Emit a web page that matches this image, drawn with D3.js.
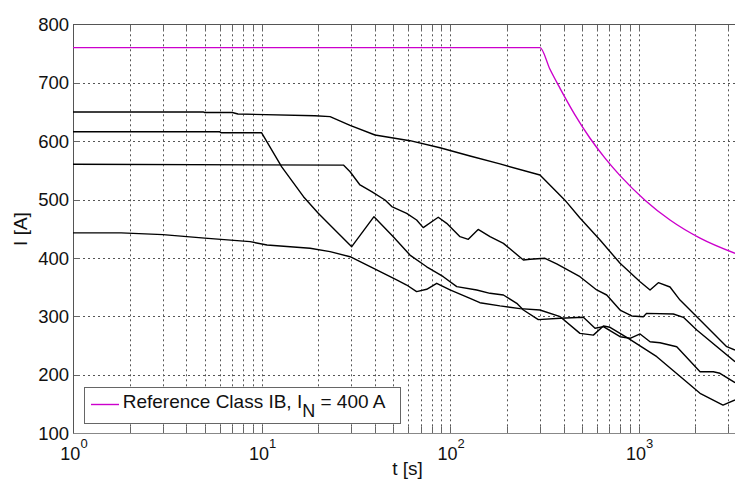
<!DOCTYPE html>
<html><head><meta charset="utf-8">
<script src="https://cdn.jsdelivr.net/npm/d3@7"></script>
<style>body{margin:0;background:#fff}svg{display:block;font-family:Arial,"Liberation Sans",sans-serif}</style>
</head><body><svg id="c" width="735" height="481"></svg>
<script>
// ---- data ----
const xTickValues = [1, 10, 100, 1000];
const xTickExponents = ["0", "1", "2", "3"];
const yTickValues = [100, 200, 300, 400, 500, 600, 700, 800];
const legendLabel = ["Reference Class IB, I", "N", " = 400 A"];

const refT = [1, 300, 339, 384, 460, 553, 664, 798, 1082, 1469, 2120, 3250];
const refI = [760, 760, 723, 690, 645, 605, 571, 541, 499, 465, 434, 408];

const aT = [1, 4.9, 5.0, 7.0, 7.5, 19.2, 23.1, 29.5, 40.0, 61.3, 88.5, 127.7, 184, 300, 407, 489, 625, 798, 1019, 1151, 1274, 1469, 1660, 2120, 2937, 3250];
const aI = [650, 650, 649, 649, 646.5, 643.6, 642, 627, 610.5, 600.8, 588.8, 574.6, 561, 542, 499, 468.5, 430.8, 391, 359.5, 345.3, 357.8, 350.4, 328, 294, 248.2, 242.6];

const bT = [1, 6.0, 6.1, 10.0, 12.8, 16.7, 20.0, 24.0, 30.1, 39.5, 50.0, 61.3, 75.2, 92.1, 108.6, 138.6, 163, 192, 226, 245, 294, 384, 510, 588, 651, 798, 902, 1019, 1151, 1300, 1595, 2120, 2494, 2703, 3250];
const bI = [616, 616, 614.5, 614.5, 556, 505, 476.5, 451, 419.4, 470.7, 436.5, 405, 385, 368, 351, 345.3, 339.6, 336.7, 322.5, 311, 294.6, 297, 298.5, 279.7, 282.5, 265.3, 262.6, 270, 256.8, 255, 248.2, 205.4, 205.4, 202.7, 186.6];

const cT = [1, 27.2, 29.5, 33.3, 38.4, 45.2, 49.1, 58.9, 66.5, 72.1, 86.6, 96.0, 113, 125, 141, 163, 192, 245, 266, 319, 368, 489, 600, 678, 798, 920, 1060, 1105, 1530, 1730, 2037, 3250];
const cI = [560.4, 559, 547.7, 525, 513.5, 499.3, 488, 476.5, 465, 452, 469.7, 459.4, 436.5, 432, 449, 436.5, 425, 396.6, 397.8, 399.5, 389.8, 368, 345.3, 336.7, 311, 300.8, 299.6, 305.3, 304.2, 298.5, 276.7, 222.6];

const dT = [1, 1.8, 3, 5, 8.7, 10.7, 18.1, 23.1, 29.5, 40.8, 52.1, 58.9, 66.5, 75.2, 85.0, 100, 127.7, 144, 184, 235, 300, 384, 489, 576, 651, 706, 883, 1250, 2120, 2806, 3250];
const dI = [443, 443, 440, 434, 428, 422.3, 416.6, 411, 402.2, 379.5, 362.4, 353.8, 342.4, 346.5, 356.7, 345.3, 331, 323.5, 318, 313.3, 311, 299.6, 271, 268, 283.6, 281.4, 262.6, 231.1, 168.5, 148.4, 157];

// ---- layout ----
const svg = d3.select("#c");
const x = d3.scaleLog().domain([1, 3600]).range([73, 743.4]);
const y = d3.scaleLinear().domain([100, 800]).range([433.3, 24.3]);
const L = 73, R = 743.4, T = 24.3, B = 433.3;

svg.append("rect").attr("width", 735).attr("height", 481).attr("fill", "#fff");
svg.append("defs").append("clipPath").attr("id", "clip")
  .append("rect").attr("x", L).attr("y", T).attr("width", R - L).attr("height", B - T);

const xGrid = [];
for (let k = 0; k <= 3; k++) for (let m = 1; m <= 9; m++) { const v = m * Math.pow(10, k); if (v > 1 && v < 3600) xGrid.push(v); }

const g = svg.append("g");
g.selectAll(".vg").data(xGrid).join("line")
  .attr("x1", d => Math.round(x(d)) + 0.5).attr("x2", d => Math.round(x(d)) + 0.5)
  .attr("y1", T).attr("y2", B)
  .attr("stroke", "#555").attr("stroke-width", 1).attr("stroke-dasharray", "2,3");
g.selectAll(".hg").data(yTickValues.filter(v => v > 100 && v < 800)).join("line")
  .attr("y1", d => Math.round(y(d)) + 0.5).attr("y2", d => Math.round(y(d)) + 0.5)
  .attr("x1", L).attr("x2", R)
  .attr("stroke", "#555").attr("stroke-width", 1).attr("stroke-dasharray", "2,3");

g.selectAll(".xt").data(xGrid).join("line")
  .attr("x1", d => Math.round(x(d)) + 0.5).attr("x2", d => Math.round(x(d)) + 0.5)
  .attr("y1", B).attr("y2", B - 7).attr("stroke", "#666").attr("stroke-width", 1);
g.selectAll(".xtt").data(xGrid).join("line")
  .attr("x1", d => Math.round(x(d)) + 0.5).attr("x2", d => Math.round(x(d)) + 0.5)
  .attr("y1", T).attr("y2", T + 7).attr("stroke", "#666").attr("stroke-width", 1);
g.selectAll(".yt").data(yTickValues).join("line")
  .attr("y1", d => Math.round(y(d)) + 0.5).attr("y2", d => Math.round(y(d)) + 0.5)
  .attr("x1", L).attr("x2", L + 7).attr("stroke", "#666").attr("stroke-width", 1);

g.append("line").attr("x1", L).attr("x2", R).attr("y1", Math.round(T) + 0.5).attr("y2", Math.round(T) + 0.5).attr("stroke", "#555");
g.append("line").attr("x1", L).attr("x2", R).attr("y1", Math.round(B) + 0.5).attr("y2", Math.round(B) + 0.5).attr("stroke", "#888");
g.append("line").attr("x1", Math.round(L) + 0.5).attr("x2", Math.round(L) + 0.5).attr("y1", T).attr("y2", B).attr("stroke", "#555");

const line = d3.line().x(d => x(d[0])).y(d => y(d[1]));
const ref = d3.line().x(d => x(d[0])).y(d => y(d[1])).curve(d3.curveMonotoneX);
const plot = svg.append("g").attr("clip-path", "url(#clip)");
[[aT, aI], [bT, bI], [cT, cI], [dT, dI]].forEach(([t, v]) => {
  plot.append("path").datum(t.map((d, i) => [d, v[i]]))
    .attr("d", line).attr("fill", "none").attr("stroke", "#000").attr("stroke-width", 1.4).attr("stroke-linejoin", "round");
});
plot.append("path").datum(refT.map((d, i) => [d, refI[i]]))
  .attr("d", ref).attr("fill", "none").attr("stroke", "#cc00cc").attr("stroke-width", 1.4);

svg.selectAll(".yl").data(yTickValues).join("text")
  .attr("x", 69).attr("y", d => y(d) + 6.6).attr("text-anchor", "end")
  .attr("font-size", 18.5).attr("fill", "#111").text(d => d);

xTickValues.forEach((v, i) => {
  const t = svg.append("text").attr("x", x(v) + 1).attr("y", 460).attr("text-anchor", "middle")
    .attr("font-size", 18).attr("fill", "#111");
  t.append("tspan").text("10");
  t.append("tspan").attr("dy", -12).attr("font-size", 13).text(xTickExponents[i]);
});

svg.append("text").attr("x", 407.5).attr("y", 475).attr("text-anchor", "middle")
  .attr("font-size", 19).attr("fill", "#111").text("t [s]");
svg.append("text").attr("transform", "translate(27,229) rotate(-90)").attr("text-anchor", "middle")
  .attr("font-size", 19).attr("fill", "#111").text("I [A]");

svg.append("rect").attr("x", 84.5).attr("y", 387.5).attr("width", 316).attr("height", 36)
  .attr("fill", "#fff").attr("stroke", "#666").attr("stroke-width", 1);
svg.append("line").attr("x1", 91).attr("x2", 119).attr("y1", 404.5).attr("y2", 404.5)
  .attr("stroke", "#cc00cc").attr("stroke-width", 1.4);
const lt = svg.append("text").attr("x", 122.7).attr("y", 408.3).attr("font-size", 19).attr("fill", "#111");
lt.append("tspan").text(legendLabel[0]);
lt.append("tspan").attr("dy", 9).attr("font-size", 18).text(legendLabel[1]);
lt.append("tspan").attr("dy", -9).text(legendLabel[2]);
</script></body></html>
